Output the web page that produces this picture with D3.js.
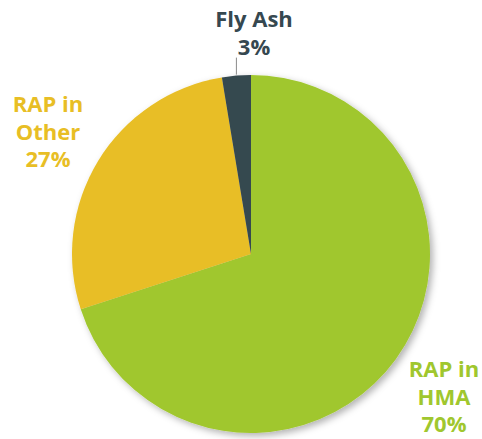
<!DOCTYPE html>
<html><head><meta charset="utf-8">
<script src="https://cdn.jsdelivr.net/npm/d3@7"></script>
<style>body{margin:0;background:#fff}svg{display:block}</style>
</head><body>
<script>
const categories = ["RAP in HMA", "RAP in Other", "Fly Ash"];
const values = [70.0, 27.4, 2.6];
const labelLines = [["RAP in", "HMA", "70%"], ["RAP in", "Other", "27%"], ["Fly Ash", "3%"]];
const colors = ["#A0C72E", "#E8BE25", "#364850"];

const W = 482, H = 439, cx = 251, cy = 254, r = 179;
const svg = d3.select("body").append("svg").attr("width", W).attr("height", H);
const defs = svg.append("defs");
const f = defs.append("filter").attr("id", "sh").attr("x", "-20%").attr("y", "-20%").attr("width", "140%").attr("height", "140%");
f.append("feDropShadow").attr("dx", 3).attr("dy", 3).attr("stdDeviation", 3.5).attr("flood-color", "#000").attr("flood-opacity", 0.3);

const pie = d3.pie().sort(null).value(d => d)(values);
const arc = d3.arc().innerRadius(0).outerRadius(r);
const g = svg.append("g").attr("transform", `translate(${cx},${cy})`);
const sg = g.append("g").attr("filter", "url(#sh)");
sg.selectAll("path").data(pie).join("path").attr("d", arc).attr("fill", (d, i) => colors[i]);

// leader line for fly ash
const fa = pie[2];
const mid = (fa.startAngle + fa.endAngle) / 2;
g.append("line")
  .attr("x1", Math.sin(mid) * r).attr("y1", -Math.cos(mid) * r - 1)
  .attr("x2", Math.sin(mid) * r).attr("y2", -Math.cos(mid) * r - 18)
  .attr("stroke", "#8a8a8a").attr("stroke-width", 1);

const labelPos = [{x: 444, y: 377}, {x: 48, y: 112}, {x: 254, y: 27}];
const lh = 27.7;
labelLines.forEach((lines, i) => {
  const t = svg.append("text").attr("text-anchor", "middle")
    .attr("font-family", "'Open Sans', sans-serif").attr("font-weight", 700)
    .attr("font-size", 22).attr("fill", colors[i]);
  lines.forEach((s, j) => t.append("tspan").attr("x", labelPos[i].x).attr("y", labelPos[i].y + j * lh).text(s));
});
</script>
</body></html>
